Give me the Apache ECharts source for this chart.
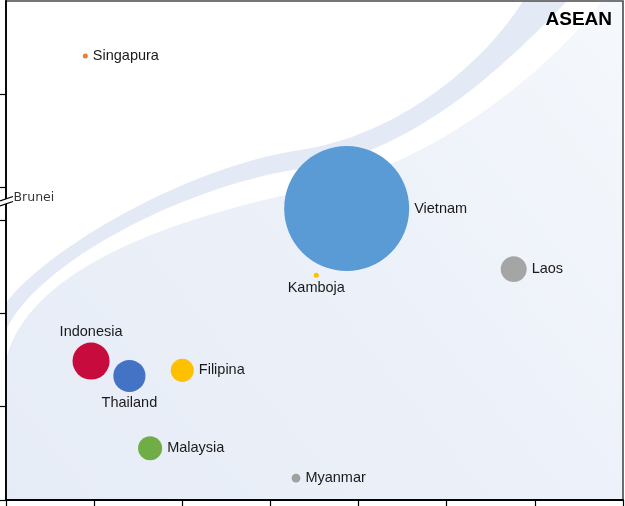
<!DOCTYPE html>
<html>
<head>
<meta charset="utf-8">
<script src="https://cdn.jsdelivr.net/npm/echarts@6/dist/echarts.min.js"></script>
<style>
  html, body { margin: 0; padding: 0; background: #fff; }
  #main { width: 625px; height: 506px; }
</style>
</head>
<body>
<div id="main"></div>
<script>
// bubble data (axis units, y axis has a break above 3)
const countries = ['Singapura', 'Vietnam', 'Kamboja', 'Laos', 'Indonesia', 'Thailand', 'Filipina', 'Malaysia', 'Myanmar'];
const xValues   = [0.90, 3.865, 3.52, 5.76, 0.965, 1.40, 2.00, 1.635, 3.29];
const yValues   = [4.76, 3.125, 2.41, 2.475, 1.49, 1.33, 1.39, 0.555, 0.235];
const sizes     = [0.16, 100, 0.16, 4.3, 8.8, 6.6, 3.4, 3.7, 0.5];
const colors    = ['#ED7D31', '#5B9BD5', '#FFC000', '#A5A5A5', '#C70B3D', '#4472C4', '#FFC000', '#70AD47', '#A0A0A0'];
const labelPos  = ['right', 'right', 'bottom', 'right', 'top', 'bottom', 'right', 'right', 'right'];
// y ticks: 0..3 then the break, then two more
const yTicks = [0, 1, 2, 3, 3.35, 4.35];
const breakName = 'Brunei';
const breakPoint = [0, 3.24];

const chart = echarts.init(document.getElementById('main'));

// decorative swoosh in the background
function bez(p0, p1, p2, p3) {
  const pts = [];
  for (let i = 0; i <= 40; i++) {
    const t = i / 40, u = 1 - t;
    pts.push([
      u*u*u*p0[0] + 3*u*u*t*p1[0] + 3*u*t*t*p2[0] + t*t*t*p3[0],
      u*u*u*p0[1] + 3*u*u*t*p1[1] + 3*u*t*t*p2[1] + t*t*t*p3[1]
    ]);
  }
  return pts;
}
const curveA = bez([6,303],[40,255],[180,168],[300,150]).concat(bez([300,150],[400,135],[485,62],[523,1]).slice(1));
const curveB = bez([6,330],[38,262],[185,185],[305,168]).concat(bez([305,168],[420,152],[515,55],[567,1]).slice(1));
const curveC = bez([6,360],[28,265],[185,215],[310,190]).concat(bez([310,190],[430,166],[545,75],[602,1]).slice(1));

const lightPts = curveC.concat([[623,1],[623,500],[6,500]]);
const bandPts = curveA.concat([[567,1]], curveB.slice().reverse());

const data = countries.map((name, i) => ({
  name: name,
  value: [xValues[i], yValues[i], sizes[i]],
  itemStyle: { color: colors[i], opacity: 1 },
  label: {
    position: labelPos[i],
    distance: labelPos[i] === 'right' ? 5 : 3
  }
}));

const option = {
  animation: false,
  title: {
    text: 'ASEAN',
    right: 8,
    top: 5,
    textStyle: { fontFamily: 'Liberation Sans, Arial', fontSize: 19, fontWeight: 'bold', color: '#000' }
  },
  grid: {
    left: 6, right: 2, top: 1, bottom: 6,
    show: true,
    borderColor: '#4a4a4a',
    borderWidth: 1.6,
    backgroundColor: 'transparent',
    containLabel: false,
    outerBoundsMode: 'none'
  },
  xAxis: {
    type: 'value',
    min: 0, max: 7, interval: 1,
    axisLine: { show: true, lineStyle: { color: '#000', width: 1.8 } },
    axisTick: { show: true, length: 6, lineStyle: { color: '#000', width: 1.2 } },
    axisLabel: { show: false },
    splitLine: { show: false }
  },
  yAxis: {
    type: 'value',
    min: 0, max: 5.35,
    axisLine: { show: true, lineStyle: { color: '#000', width: 1.8 } },
    axisTick: { show: true, length: 6, customValues: yTicks, lineStyle: { color: '#000', width: 1.2 } },
    axisLabel: { show: false, customValues: yTicks },
    splitLine: { show: false }
  },
  graphic: [
    { type: 'polygon', z: -10, silent: true, shape: { points: lightPts },
      style: { fill: new echarts.graphic.LinearGradient(0, 1, 1, 0, [
        { offset: 0, color: '#e6ecf6' }, { offset: 0.6, color: '#edf1f9' }, { offset: 1, color: '#f5f8fc' }
      ]) } },
    { type: 'polygon', z: -9, silent: true, shape: { points: bandPts }, style: { fill: '#e4eaf5' } },
    // break marker on the y axis
    { type: 'polygon', z: 100, silent: true, shape: { points: [[0,201],[13,196.5],[13,201.5],[0,206]] }, style: { fill: '#ffffff' } },
    { type: 'line', z: 101, silent: true, shape: { x1: 0, y1: 201, x2: 13, y2: 196.5 }, style: { stroke: '#000', lineWidth: 1.2 } },
    { type: 'line', z: 101, silent: true, shape: { x1: 0, y1: 206, x2: 13, y2: 201.5 }, style: { stroke: '#000', lineWidth: 1.2 } }
  ],
  series: [
    {
      type: 'scatter',
      data: data,
      symbolSize: v => Math.sqrt(v[2]) * 12.5,
      clip: false,
      label: {
        show: true,
        formatter: '{b}',
        fontFamily: 'Liberation Sans, Arial',
        fontSize: 14.5,
        color: '#1a1a1a'
      },
      emphasis: { disabled: true }
    },
    {
      type: 'scatter',
      data: [{ name: breakName, value: breakPoint }],
      symbolSize: 1,
      itemStyle: { color: 'rgba(0,0,0,0)' },
      clip: false,
      label: {
        show: true,
        position: 'right',
        distance: 7,
        formatter: '{b}',
        fontFamily: 'DejaVu Sans',
        fontSize: 12.5,
        color: '#000'
      },
      emphasis: { disabled: true }
    }
  ]
};

chart.setOption(option);
</script>
</body>
</html>
